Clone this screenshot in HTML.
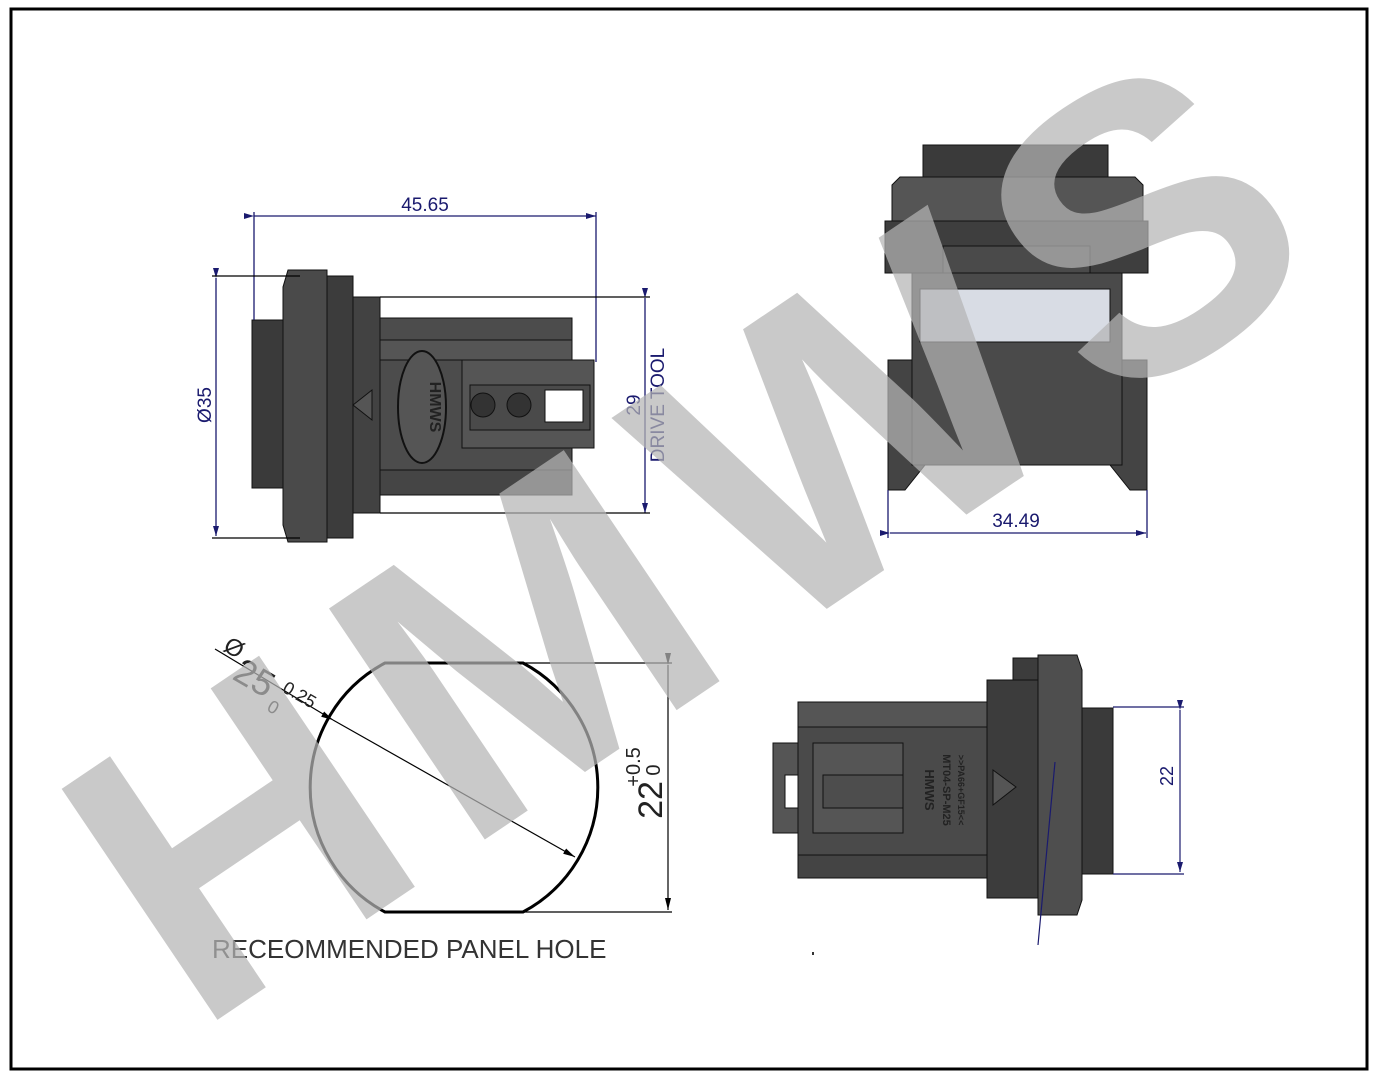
<!DOCTYPE html>
<html><head><meta charset="utf-8"><style>
html,body{margin:0;padding:0;background:#fff;}
svg{display:block;}
</style></head><body>
<svg width="1380" height="1083" viewBox="0 0 1380 1083" xmlns="http://www.w3.org/2000/svg" font-family="Liberation Sans, sans-serif">
<defs>
<marker id="ar" markerWidth="10" markerHeight="6" refX="10" refY="3" orient="auto" markerUnits="userSpaceOnUse"><path d="M0,0 L10,3 L0,6 z" fill="#1a1a6e"/></marker>
<marker id="ak" markerWidth="12" markerHeight="6" refX="12" refY="3" orient="auto" markerUnits="userSpaceOnUse"><path d="M0,0 L12,3 L0,6 z" fill="#000"/></marker>
</defs>
<rect x="0" y="0" width="1380" height="1083" fill="#fff"/>

<!-- TOP-LEFT connector -->
<g stroke="#111" stroke-width="1">
<rect x="252" y="320" width="32" height="168" fill="#3a3a3a"/>
<path d="M288,270 L327,270 L327,542 L288,542 L283,525 L283,287 Z" fill="#4a4a4a"/>
<rect x="327" y="276" width="26" height="262" fill="#3c3c3c"/>
<rect x="353" y="297" width="27" height="216" fill="#424242"/>
<rect x="380" y="318" width="192" height="177" fill="#4c4c4c"/>
<rect x="380" y="340" width="192" height="20" fill="#555"/>
<rect x="380" y="470" width="192" height="25" fill="#454545"/>
<rect x="462" y="360" width="132" height="88" fill="#555"/>
<rect x="470" y="385" width="120" height="45" fill="#4a4a4a"/>
<rect x="545" y="390" width="38" height="32" fill="#fff"/>
<ellipse cx="422" cy="407" rx="24" ry="56" fill="#555" stroke-width="2"/>
<circle cx="483" cy="405" r="12" fill="#333"/>
<circle cx="519" cy="405" r="12" fill="#333"/>
<path d="M353,405 L372,390 L372,420 Z" fill="#555"/>
</g>
<text transform="translate(430,407) rotate(90)" text-anchor="middle" font-size="16" font-weight="bold" fill="#222">HMWS</text>
<g stroke="#1a1a6e" stroke-width="1.3" fill="none">
<line x1="254" y1="216" x2="596" y2="216" marker-start="url(#ar)" marker-end="url(#ar)"/>
<line x1="254" y1="212" x2="254" y2="320"/>
<line x1="596" y1="212" x2="596" y2="362"/>
<line x1="216" y1="278" x2="216" y2="536" marker-start="url(#ar)" marker-end="url(#ar)"/>
<line x1="212" y1="276" x2="300" y2="276" stroke="#000"/>
<line x1="212" y1="538" x2="300" y2="538" stroke="#000"/>
<line x1="645" y1="298" x2="645" y2="513" marker-start="url(#ar)" marker-end="url(#ar)"/>
<line x1="380" y1="297" x2="650" y2="297" stroke="#000"/>
<line x1="380" y1="513" x2="650" y2="513" stroke="#000"/>
</g>
<text x="425" y="211" text-anchor="middle" font-size="19" fill="#1a1a6e">45.65</text>
<text transform="translate(211,405) rotate(-90)" text-anchor="middle" font-size="19" fill="#1a1a6e">Ø35</text>
<text transform="translate(640,405) rotate(-90)" text-anchor="middle" font-size="19" fill="#1a1a6e">29</text>
<text transform="translate(664,405) rotate(-90)" text-anchor="middle" font-size="19" fill="#1a1a6e">DRIVE TOOL</text>

<!-- TOP-RIGHT connector -->
<g stroke="#111" stroke-width="1">
<rect x="923" y="145" width="185" height="32" fill="#3a3a3a"/>
<path d="M900,177 L1135,177 L1143,185 L1143,221 L892,221 L892,185 Z" fill="#555"/>
<rect x="885" y="221" width="263" height="52" fill="#3e3e3e"/>
<rect x="943" y="246" width="147" height="27" fill="#4a4a4a"/>
<rect x="912" y="273" width="210" height="192" fill="#4a4a4a"/>
<rect x="920" y="289" width="190" height="53" fill="#d8dce4"/>
<path d="M888,360 L912,360 L912,465 L925,465 L905,490 L888,490 Z" fill="#444"/>
<path d="M1147,360 L1122,360 L1122,465 L1110,465 L1130,490 L1147,490 Z" fill="#444"/>
</g>
<g stroke="#1a1a6e" stroke-width="1.3">
<line x1="890" y1="533" x2="1146" y2="533" marker-start="url(#ar)" marker-end="url(#ar)"/>
<line x1="888" y1="490" x2="888" y2="538"/>
<line x1="1147" y1="490" x2="1147" y2="538"/>
</g>
<text x="1016" y="527" text-anchor="middle" font-size="19" fill="#1a1a6e">34.49</text>

<!-- PANEL HOLE -->
<path d="M385,663 L523,663 A141,141 0 0 1 523,912 L385,912 A141,141 0 0 1 385,663 Z" fill="none" stroke="#000" stroke-width="3"/>
<g stroke="#000" stroke-width="1.2">
<line x1="215" y1="649" x2="333" y2="720"/>
<line x1="333" y1="720" x2="575" y2="857" marker-start="url(#ak)" marker-end="url(#ak)"/>
<line x1="523" y1="663" x2="672" y2="663"/>
<line x1="523" y1="912" x2="672" y2="912"/>
<line x1="668" y1="665" x2="668" y2="910" marker-start="url(#ak)" marker-end="url(#ak)"/>
</g>
<g transform="translate(222,650) rotate(30)" fill="#222">
<text x="0" y="0" font-size="24">Ø</text>
<text x="22" y="20" font-size="36">25</text>
<text x="68" y="30" font-size="18">0</text>
<text x="72" y="6" font-size="18">0.25</text>
</g>
<text transform="translate(662,800) rotate(-90)" text-anchor="middle" font-size="34" fill="#222">22</text>
<text transform="translate(640,767) rotate(-90)" text-anchor="middle" font-size="20" fill="#222">+0.5</text>
<text transform="translate(660,770) rotate(-90)" text-anchor="middle" font-size="20" fill="#222">0</text>
<text x="212" y="958" font-size="26" fill="#333">RECEOMMENDED PANEL HOLE</text>

<!-- BOTTOM-RIGHT connector -->
<g stroke="#111" stroke-width="1">
<rect x="773" y="743" width="40" height="90" fill="#555"/>
<rect x="785" y="775" width="40" height="33" fill="#fff"/>
<rect x="798" y="702" width="189" height="176" fill="#4a4a4a"/>
<rect x="798" y="702" width="189" height="25" fill="#555"/>
<rect x="798" y="855" width="189" height="23" fill="#444"/>
<rect x="813" y="743" width="90" height="90" fill="#555"/>
<rect x="823" y="775" width="80" height="33" fill="#4d4d4d"/>
<rect x="987" y="680" width="51" height="218" fill="#3c3c3c"/>
<rect x="1013" y="658" width="25" height="22" fill="#3c3c3c"/>
<path d="M1038,655 L1077,655 L1082,670 L1082,900 L1077,915 L1038,915 Z" fill="#4e4e4e"/>
<rect x="1082" y="708" width="31" height="166" fill="#3a3a3a"/>
<path d="M993,770 L1016,787 L993,805 Z" fill="#555"/>
</g>
<text transform="translate(925,790) rotate(90)" text-anchor="middle" font-size="13" font-weight="bold" fill="#222">HMWS</text>
<text transform="translate(943,790) rotate(90)" text-anchor="middle" font-size="11" font-weight="bold" fill="#222">MT04-SP-M25</text>
<text transform="translate(958,790) rotate(90)" text-anchor="middle" font-size="9" font-weight="bold" fill="#222">&gt;&gt;PA66+GF15&lt;&lt;</text>
<g stroke="#1a1a6e" stroke-width="1.2">
<line x1="1180" y1="710" x2="1180" y2="872" marker-start="url(#ar)" marker-end="url(#ar)"/>
<line x1="1113" y1="707" x2="1184" y2="707"/>
<line x1="1113" y1="874" x2="1184" y2="874"/>
<line x1="1055" y1="762" x2="1038" y2="945"/>
</g>
<text transform="translate(1173,776) rotate(-90)" text-anchor="middle" font-size="18" fill="#1a1a6e">22</text>
<rect x="812" y="952" width="2" height="3" fill="#333"/>

<!-- watermark -->
<text transform="translate(195,1035) rotate(-34)" font-size="405" font-weight="bold" fill="#b4b4b4" fill-opacity="0.72" letter-spacing="30">HMWS</text>

<!-- border -->
<rect x="11" y="9" width="1356" height="1060" fill="none" stroke="#000" stroke-width="3"/>
</svg>
</body></html>
